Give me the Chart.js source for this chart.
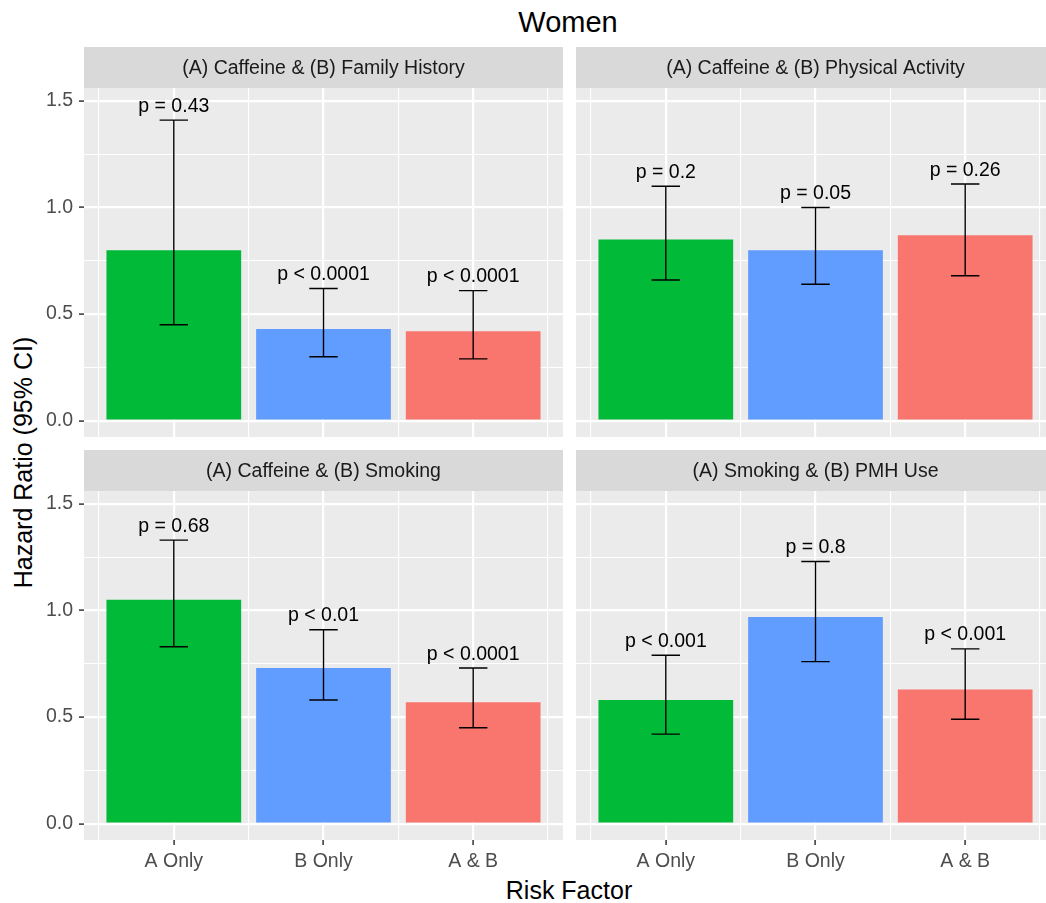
<!DOCTYPE html>
<html>
<head>
<meta charset="utf-8">
<title>Women – Hazard Ratio by Risk Factor</title>
<script src="https://cdn.jsdelivr.net/npm/chart.js@4.4.1/dist/chart.umd.min.js"></script>
<style>
  html, body { margin: 0; padding: 0; background: #ffffff; overflow: hidden; width: 1046px; height: 903px; }
  body { position: relative; font-family: "Liberation Sans", Arial, sans-serif; }
  canvas { position: absolute; }
  .lbl { position: absolute; white-space: nowrap; color: #000000; text-align: center; width: 400px; }
</style>
</head>
<body>
<div class="lbl" style="left:368px; top:8px; font-size:29px; line-height:29px;">Women</div>
<div class="lbl" style="left:369px; top:878px; font-size:25px; line-height:25px;">Risk Factor</div>
<div class="lbl" style="left:-177px; top:450px; font-size:25px; line-height:25px; transform:rotate(-90deg);">Hazard Ratio (95% CI)</div>

<canvas id="panelFamily"></canvas>
<canvas id="panelActivity"></canvas>
<canvas id="panelSmoking"></canvas>
<canvas id="panelPmh"></canvas>

<script>
// ---- data ----
const riskFactors = ['A Only', 'B Only', 'A & B'];
const barColors = ['#00BA38', '#619CFF', '#F8766D'];

const yTickValues = [0, 0.25, 0.5, 0.75, 1.0, 1.25, 1.5];
const yTickLabels = ['0.0', '', '0.5', '', '1.0', '', '1.5'];
const xTickValues = [0.5, 1, 1.5, 2, 2.5, 3, 3.5];

const familyTitle = '(A) Caffeine & (B) Family History';
const familyHR    = [0.80, 0.43, 0.42];
const familyLower = [0.45, 0.30, 0.29];
const familyUpper = [1.41, 0.62, 0.61];
const familyP     = ['p = 0.43', 'p < 0.0001', 'p < 0.0001'];

const activityTitle = '(A) Caffeine & (B) Physical Activity';
const activityHR    = [0.85, 0.80, 0.87];
const activityLower = [0.66, 0.64, 0.68];
const activityUpper = [1.10, 1.00, 1.11];
const activityP     = ['p = 0.2', 'p = 0.05', 'p = 0.26'];

const smokingTitle = '(A) Caffeine & (B) Smoking';
const smokingHR    = [1.05, 0.73, 0.57];
const smokingLower = [0.83, 0.58, 0.45];
const smokingUpper = [1.33, 0.91, 0.73];
const smokingP     = ['p = 0.68', 'p < 0.01', 'p < 0.0001'];

const pmhTitle = '(A) Smoking & (B) PMH Use';
const pmhHR    = [0.58, 0.97, 0.63];
const pmhLower = [0.42, 0.76, 0.49];
const pmhUpper = [0.79, 1.23, 0.82];
const pmhP     = ['p < 0.001', 'p = 0.8', 'p < 0.001'];

// ---- layout ----
const FONT = '"Liberation Sans", Arial, sans-serif';
const colLeft = [84, 576];
const stripTop = [47, 450];
const panelW = 479, panelH = 349, stripH = 41;
const yAxisW = 84, xAxisH = 50;
const yMin = -0.0765, yMax = 1.5605;
const xMin = 0.4, xMax = 3.6;

Chart.defaults.font.family = FONT;

const panels = [
  { id: 'panelFamily',   title: familyTitle,   hr: familyHR,   lower: familyLower,   upper: familyUpper,   p: familyP,   col: 0, row: 0 },
  { id: 'panelActivity', title: activityTitle, hr: activityHR, lower: activityLower, upper: activityUpper, p: activityP, col: 1, row: 0 },
  { id: 'panelSmoking',  title: smokingTitle,  hr: smokingHR,  lower: smokingLower,  upper: smokingUpper,  p: smokingP,  col: 0, row: 1 },
  { id: 'panelPmh',      title: pmhTitle,      hr: pmhHR,      lower: pmhLower,      upper: pmhUpper,      p: pmhP,      col: 1, row: 1 }
];

// grey panel background
const panelBackground = {
  id: 'panelBackground',
  beforeDraw(chart) {
    const { ctx, chartArea: a } = chart;
    ctx.save();
    ctx.fillStyle = '#EBEBEB';
    ctx.fillRect(a.left, a.top, a.right - a.left, a.bottom - a.top);
    ctx.restore();
  }
};

// facet strip above the panel
function stripPlugin(text) {
  return {
    id: 'strip',
    beforeDraw(chart) {
      const { ctx, chartArea: a } = chart;
      ctx.save();
      ctx.fillStyle = '#D9D9D9';
      ctx.fillRect(a.left, a.top - stripH, a.right - a.left, stripH);
      ctx.fillStyle = '#1A1A1A';
      ctx.font = '19.5px ' + FONT;
      ctx.textAlign = 'center';
      ctx.textBaseline = 'middle';
      ctx.fillText(text, (a.left + a.right) / 2, a.top - stripH / 2 + 1.5);
      ctx.restore();
    }
  };
}

// 95% CI whiskers and p-value labels
function errorBarPlugin(lower, upper, labels) {
  return {
    id: 'errorBars',
    afterDatasetsDraw(chart) {
      const { ctx, scales: { x, y } } = chart;
      ctx.save();
      ctx.strokeStyle = '#000000';
      ctx.lineWidth = 1.4;
      ctx.fillStyle = '#000000';
      ctx.font = '19.5px ' + FONT;
      ctx.textAlign = 'center';
      ctx.textBaseline = 'alphabetic';
      lower.forEach((lo, i) => {
        const cx = x.getPixelForValue(i + 1);
        const half = x.getPixelForValue(i + 1 + 0.095) - cx;
        const yLo = y.getPixelForValue(lo);
        const yHi = y.getPixelForValue(upper[i]);
        ctx.beginPath();
        ctx.moveTo(cx, yLo); ctx.lineTo(cx, yHi);
        ctx.moveTo(cx - half, yLo); ctx.lineTo(cx + half, yLo);
        ctx.moveTo(cx - half, yHi); ctx.lineTo(cx + half, yHi);
        ctx.stroke();
        ctx.fillText(labels[i], cx, yHi - 8.5);
      });
      ctx.restore();
    }
  };
}

// keep the plot area at its fixed size: no extra room for overhanging tick labels
function fixPadding(s) {
  s.paddingTop = 0; s.paddingBottom = 0; s.paddingLeft = 0; s.paddingRight = 0;
}

panels.forEach(p => {
  const showY = p.col === 0;
  const showX = p.row === 1;
  const cv = document.getElementById(p.id);
  const w = (showY ? yAxisW : 0) + panelW;
  const h = stripH + panelH + (showX ? xAxisH : 0);
  cv.width = w; cv.height = h;
  cv.style.width = w + 'px'; cv.style.height = h + 'px';
  cv.style.left = (showY ? colLeft[p.col] - yAxisW : colLeft[p.col]) + 'px';
  cv.style.top = stripTop[p.row] + 'px';

  new Chart(cv, {
    type: 'bar',
    data: {
      datasets: [{
        data: p.hr.map((v, i) => ({ x: i + 1, y: v })),
        backgroundColor: barColors,
        borderWidth: 0,
        // ticks sit at half-unit steps, so one category spans two tick intervals
        categoryPercentage: 2,
        barPercentage: 0.9
      }]
    },
    options: {
      responsive: false,
      animation: false,
      events: [],
      layout: { padding: { top: stripH, left: 0, right: 0, bottom: 0 } },
      plugins: { legend: { display: false }, tooltip: { enabled: false }, title: { display: false } },
      scales: {
        x: {
          type: 'linear',
          min: xMin, max: xMax,
          offset: false,
          afterBuildTicks: s => { s.ticks = xTickValues.map(v => ({ value: v })); },
          afterFit: s => { s.height = showX ? xAxisH : 0; fixPadding(s); },
          border: { display: false },
          grid: {
            offset: false,
            color: '#FFFFFF',
            lineWidth: ctx => (ctx.tick && Number.isInteger(ctx.tick.value)) ? 2.2 : 1.1,
            drawTicks: showX,
            tickLength: 5,
            tickWidth: 1.5,
            tickColor: ctx => (ctx.tick && Number.isInteger(ctx.tick.value)) ? '#333333' : 'rgba(0,0,0,0)'
          },
          ticks: {
            display: showX,
            autoSkip: false,
            maxRotation: 0,
            minRotation: 0,
            color: '#4D4D4D',
            font: { size: 19.5 },
            padding: 5,
            callback: v => Number.isInteger(v) ? riskFactors[v - 1] : ''
          }
        },
        y: {
          type: 'linear',
          min: yMin, max: yMax,
          afterBuildTicks: s => { s.ticks = yTickValues.map(v => ({ value: v })); },
          afterFit: s => { s.width = showY ? yAxisW : 0; fixPadding(s); },
          border: { display: false },
          grid: {
            color: '#FFFFFF',
            lineWidth: ctx => (ctx.tick && yTickLabels[ctx.index] !== '') ? 2.2 : 1.1,
            drawTicks: showY,
            tickLength: 5,
            tickWidth: 1.5,
            tickColor: ctx => (ctx.tick && yTickLabels[ctx.index] !== '') ? '#333333' : 'rgba(0,0,0,0)'
          },
          ticks: {
            display: showY,
            color: '#4D4D4D',
            font: { size: 19.5 },
            padding: 6,
            callback: (v, i) => yTickLabels[i]
          }
        }
      }
    },
    plugins: [panelBackground, stripPlugin(p.title), errorBarPlugin(p.lower, p.upper, p.p)]
  });
});
</script>
</body>
</html>
